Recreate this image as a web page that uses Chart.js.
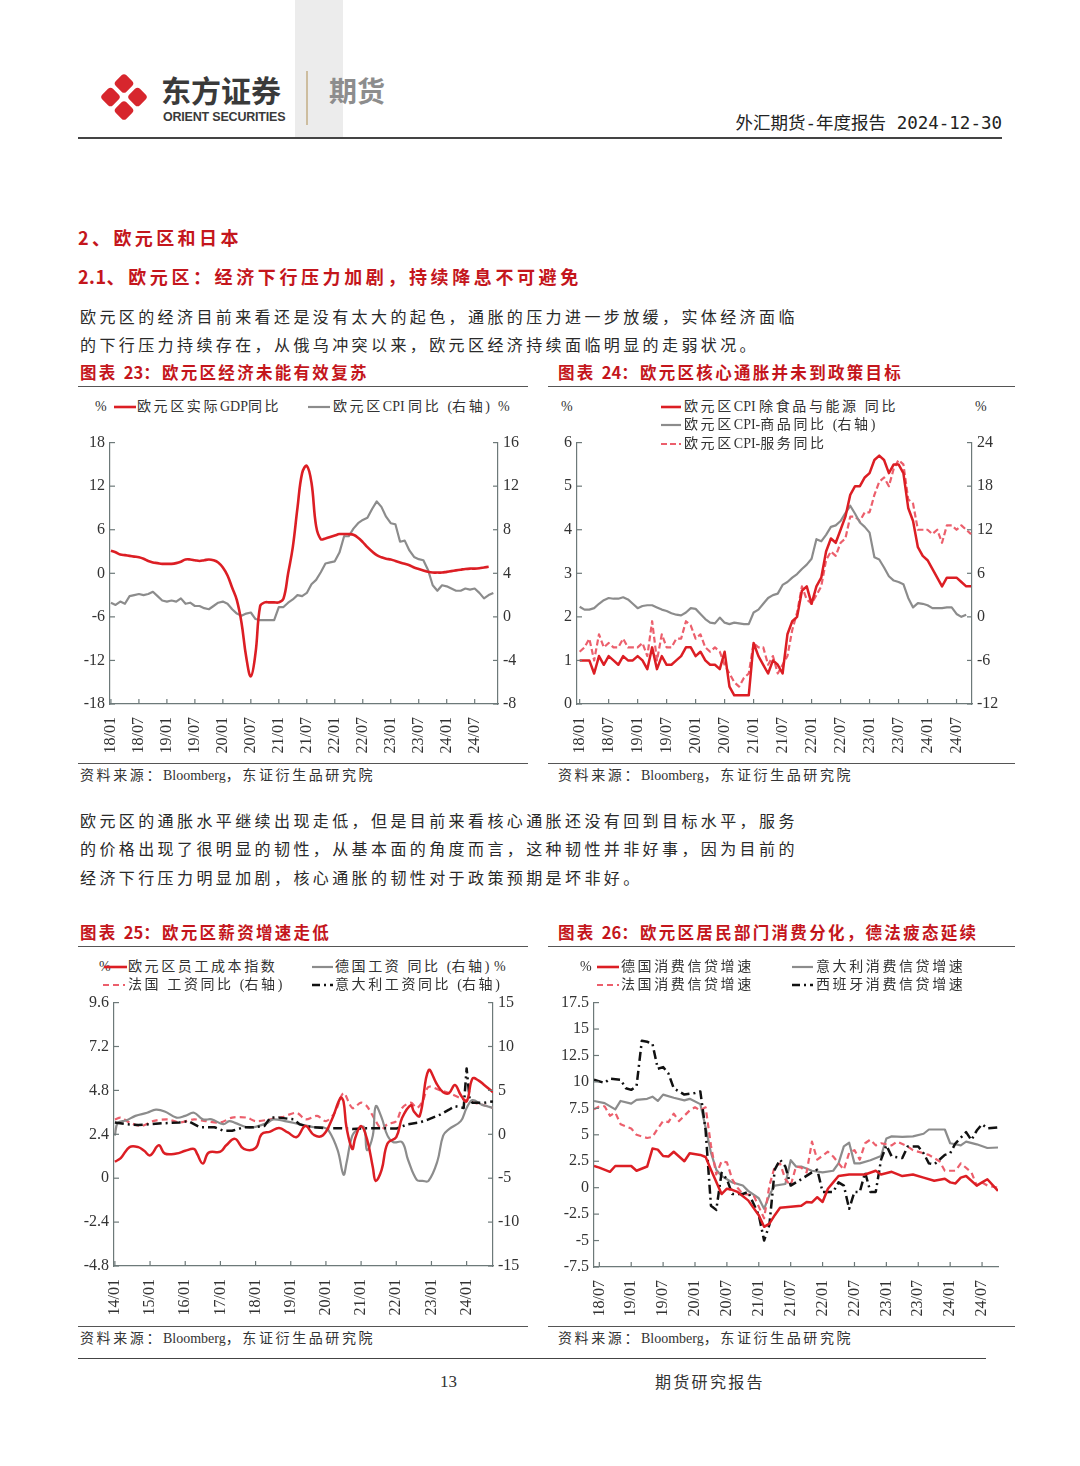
<!DOCTYPE html>
<html>
<head>
<meta charset="utf-8">
<script src="https://cdn.jsdelivr.net/npm/chart.js@4.4.1/dist/chart.umd.min.js"></script>
<style>
  body { margin: 0; background: #fff; }
  #page { position: relative; width: 1080px; height: 1466px; overflow: hidden;
          font-family: "Liberation Serif", "Noto Sans CJK SC", serif; color: #222; }
  .t { position: absolute; white-space: nowrap; line-height: 1; }
  .hr { position: absolute; height: 0; border-top: 1px solid #555; }
  .red { color: #c4161c; font-family: "Noto Sans CJK SC", sans-serif; font-weight: 700; }
  .body { font-family: "Noto Sans CJK SC", sans-serif; font-size: 16px; letter-spacing: 3.4px; color: #2a2a2a; }
  .lg { font-size: 14px; letter-spacing: 2.6px; color: #333; }
  .src { font-size: 14px; letter-spacing: 2.6px; color: #333; }
  .lat { letter-spacing: 0; font-family: "Liberation Serif", serif; }
  .cap { font-size: 16.5px; letter-spacing: 2.3px; }
  canvas { position: absolute; }
  .leg { position: absolute; z-index: 2; }
</style>
</head>
<body>
<div id="page">
  <!-- header -->
  <div style="position:absolute;left:295px;top:0;width:48px;height:138px;background:#ececec;"></div>
  <svg style="position:absolute;left:100px;top:73px;" width="48" height="48" viewBox="0 0 48 48">
    <g fill="#d7262d">
      <rect x="16.5" y="3" width="15" height="15" rx="3.5" transform="rotate(45 24 10.5)"/>
      <rect x="3" y="16.5" width="15" height="15" rx="3.5" transform="rotate(45 10.5 24)"/>
      <rect x="30" y="16.5" width="15" height="15" rx="3.5" transform="rotate(45 37.5 24)"/>
      <rect x="16.5" y="30" width="15" height="15" rx="3.5" transform="rotate(45 24 37.5)"/>
    </g>
  </svg>
  <div class="t" style="left:161px;top:74px;font-family:'Noto Sans CJK SC';font-weight:700;font-size:30px;color:#3a3a3a;">东方证券</div>
  <div class="t" style="left:163px;top:111px;font-family:'Liberation Sans';font-weight:700;font-size:12.5px;color:#3a3a3a;letter-spacing:-0.2px;">ORIENT SECURITIES</div>
  <div style="position:absolute;left:306px;top:71px;width:1.5px;height:54px;background:#cdbd9f;"></div>
  <div class="t" style="left:329px;top:76px;font-family:'Noto Sans CJK SC';font-weight:700;font-size:28px;color:#8d8d8d;">期货</div>
  <div class="t" style="right:78px;top:115px;font-family:'DejaVu Sans Mono','Noto Sans CJK SC';font-size:17.5px;color:#222;">外汇期货-年度报告 2024-12-30</div>
  <div class="hr" style="left:78px;top:137px;width:924px;border-top:2px solid #444;"></div>

  <!-- section text -->
  <div class="t red" style="left:78px;top:228px;font-size:18px;letter-spacing:3.4px;">2、欧元区和日本</div>
  <div class="t red" style="left:78px;top:267px;font-size:18px;letter-spacing:3.6px;"><span style="letter-spacing:0.5px;">2.1</span>、欧元区：经济下行压力加剧，持续降息不可避免</div>
  <div class="t body" style="left:80px;top:308px;">欧元区的经济目前来看还是没有太大的起色，通胀的压力进一步放缓，实体经济面临</div>
  <div class="t body" style="left:80px;top:336px;">的下行压力持续存在，从俄乌冲突以来，欧元区经济持续面临明显的走弱状况。</div>

  <div class="t red cap" style="left:80px;top:364px;">图表 <span class="lat" style="font-family:'Noto Sans CJK SC';">23</span>：欧元区经济未能有效复苏</div>
  <div class="t red cap" style="left:558px;top:364px;">图表 <span class="lat" style="font-family:'Noto Sans CJK SC';">24</span>：欧元区核心通胀并未到政策目标</div>
  <div class="hr" style="left:78px;top:386px;width:450px;"></div>
  <div class="hr" style="left:548px;top:386px;width:467px;"></div>

  <div class="hr" style="left:78px;top:763px;width:450px;"></div>
  <div class="hr" style="left:548px;top:763px;width:467px;"></div>
  <div class="t src" style="left:80px;top:769px;">资料来源：<span class="lat">Bloomberg</span>，东证衍生品研究院</div>
  <div class="t src" style="left:558px;top:769px;">资料来源：<span class="lat">Bloomberg</span>，东证衍生品研究院</div>

  <div class="t body" style="left:80px;top:812px;">欧元区的通胀水平继续出现走低，但是目前来看核心通胀还没有回到目标水平，服务</div>
  <div class="t body" style="left:80px;top:840px;">的价格出现了很明显的韧性，从基本面的角度而言，这种韧性并非好事，因为目前的</div>
  <div class="t body" style="left:80px;top:869px;">经济下行压力明显加剧，核心通胀的韧性对于政策预期是坏非好。</div>

  <div class="t red cap" style="left:80px;top:924px;">图表 <span class="lat" style="font-family:'Noto Sans CJK SC';">25</span>：欧元区薪资增速走低</div>
  <div class="t red cap" style="left:558px;top:924px;">图表 <span class="lat" style="font-family:'Noto Sans CJK SC';">26</span>：欧元区居民部门消费分化，德法疲态延续</div>
  <div class="hr" style="left:78px;top:946px;width:450px;"></div>
  <div class="hr" style="left:548px;top:946px;width:467px;"></div>

  <div class="hr" style="left:78px;top:1326px;width:450px;"></div>
  <div class="hr" style="left:548px;top:1326px;width:467px;"></div>
  <div class="t src" style="left:80px;top:1332px;">资料来源：<span class="lat">Bloomberg</span>，东证衍生品研究院</div>
  <div class="t src" style="left:558px;top:1332px;">资料来源：<span class="lat">Bloomberg</span>，东证衍生品研究院</div>

  <div class="hr" style="left:78px;top:1358px;width:908px;border-top:1.5px solid #444;"></div>
  <div class="t" style="left:440px;top:1373px;font-size:17px;color:#333;">13</div>
  <div class="t" style="left:655px;top:1373px;font-family:'Noto Sans CJK SC';font-size:16px;letter-spacing:2.3px;color:#333;">期货研究报告</div>

  <!-- canvases -->
  <canvas id="c23" width="470" height="335" style="left:66px;top:428px;"></canvas>
  <canvas id="c24" width="470" height="335" style="left:548px;top:428px;"></canvas>
  <canvas id="c25" width="470" height="338" style="left:66px;top:988px;"></canvas>
  <canvas id="c26" width="470" height="338" style="left:548px;top:988px;"></canvas>

  <!-- legends chart 23 -->
  <div class="leg t lg" style="left:95px;top:400px;">%</div>
  <svg class="leg" style="left:114px;top:404px;" width="22" height="6"><line x1="0" y1="3" x2="22" y2="3" stroke="#dc1e24" stroke-width="2.6"/></svg>
  <div class="leg t lg" style="left:137px;top:400px;">欧元区实际<span class="lat">GDP</span>同比</div>
  <svg class="leg" style="left:308px;top:404px;" width="22" height="6"><line x1="0" y1="3" x2="22" y2="3" stroke="#8c8c8c" stroke-width="2.2"/></svg>
  <div class="leg t lg" style="left:333px;top:400px;">欧元区<span class="lat">CPI </span>同比 <span class="lat">(</span>右轴<span class="lat">)</span></div>
  <div class="leg t lg" style="left:498px;top:400px;">%</div>

  <!-- legends chart 24 -->
  <div class="leg t lg" style="left:561px;top:400px;">%</div>
  <div class="leg t lg" style="left:975px;top:400px;">%</div>
  <svg class="leg" style="left:661px;top:404px;" width="20" height="6"><line x1="0" y1="3" x2="20" y2="3" stroke="#dc1e24" stroke-width="2.6"/></svg>
  <div class="leg t lg" style="left:684px;top:400px;">欧元区<span class="lat">CPI </span>除食品与能源 同比</div>
  <svg class="leg" style="left:661px;top:422px;" width="20" height="6"><line x1="0" y1="3" x2="20" y2="3" stroke="#8c8c8c" stroke-width="2.2"/></svg>
  <div class="leg t lg" style="left:684px;top:418px;">欧元区<span class="lat">CPI-</span>商品同比 <span class="lat">(</span>右轴<span class="lat">)</span></div>
  <svg class="leg" style="left:661px;top:441px;" width="20" height="6"><line x1="0" y1="3" x2="20" y2="3" stroke="#ec5f6c" stroke-width="2.2" stroke-dasharray="6 3"/></svg>
  <div class="leg t lg" style="left:684px;top:437px;">欧元区<span class="lat">CPI-</span>服务同比</div>

  <!-- legends chart 25 -->
  <div class="leg t lg" style="left:99px;top:960px;">%</div>
  <svg class="leg" style="left:104px;top:964px;" width="23" height="6"><line x1="0" y1="3" x2="23" y2="3" stroke="#dc1e24" stroke-width="2.6"/></svg>
  <div class="leg t lg" style="left:128px;top:960px;">欧元区员工成本指数</div>
  <svg class="leg" style="left:312px;top:964px;" width="21" height="6"><line x1="0" y1="3" x2="21" y2="3" stroke="#8c8c8c" stroke-width="2.2"/></svg>
  <div class="leg t lg" style="left:335px;top:960px;">德国工资 同比 <span class="lat">(</span>右轴<span class="lat">)</span></div>
  <div class="leg t lg" style="left:494px;top:960px;">%</div>
  <svg class="leg" style="left:103px;top:982px;" width="22" height="6"><line x1="0" y1="3" x2="22" y2="3" stroke="#ec5f6c" stroke-width="2.2" stroke-dasharray="6 4"/></svg>
  <div class="leg t lg" style="left:128px;top:978px;">法国 工资同比 <span class="lat">(</span>右轴<span class="lat">)</span></div>
  <svg class="leg" style="left:312px;top:982px;" width="21" height="6"><line x1="0" y1="3" x2="21" y2="3" stroke="#111" stroke-width="2.6" stroke-dasharray="8 4 2 4"/></svg>
  <div class="leg t lg" style="left:335px;top:978px;">意大利工资同比 <span class="lat">(</span>右轴<span class="lat">)</span></div>

  <!-- legends chart 26 -->
  <div class="leg t lg" style="left:580px;top:960px;">%</div>
  <svg class="leg" style="left:597px;top:964px;" width="22" height="6"><line x1="0" y1="3" x2="22" y2="3" stroke="#dc1e24" stroke-width="2.6"/></svg>
  <div class="leg t lg" style="left:621px;top:960px;">德国消费信贷增速</div>
  <svg class="leg" style="left:792px;top:964px;" width="21" height="6"><line x1="0" y1="3" x2="21" y2="3" stroke="#8c8c8c" stroke-width="2.2"/></svg>
  <div class="leg t lg" style="left:816px;top:960px;">意大利消费信贷增速</div>
  <svg class="leg" style="left:597px;top:982px;" width="22" height="6"><line x1="0" y1="3" x2="22" y2="3" stroke="#ec5f6c" stroke-width="2.2" stroke-dasharray="6 4"/></svg>
  <div class="leg t lg" style="left:621px;top:978px;">法国消费信贷增速</div>
  <svg class="leg" style="left:792px;top:982px;" width="21" height="6"><line x1="0" y1="3" x2="21" y2="3" stroke="#111" stroke-width="2.6" stroke-dasharray="8 4 2 4"/></svg>
  <div class="leg t lg" style="left:816px;top:978px;">西班牙消费信贷增速</div>
</div>

<script>
// ---------- chart 23: GDP vs CPI (month 0 = 2018/01) ----------
const c23Ticks = ['18/01','18/07','19/01','19/07','20/01','20/07','21/01','21/07','22/01','22/07','23/01','23/07','24/01','24/07'];
const c23LeftTicks = [-18, -12, -6, 0, 6, 12, 18];
const c23RightTicks = [-8, -4, 0, 4, 8, 12, 16];
const c23Gdp = [3.1,2.9,2.6,2.5,2.4,2.3,2.2,2.0,1.7,1.5,1.4,1.3,
  1.3,1.3,1.4,1.6,1.9,1.9,1.8,1.7,1.8,1.9,1.8,1.5,
  0.8,-0.3,-2.0,-3.7,-6.8,-11.5,-14.2,-11.0,-4.5,-4.0,-4.0,-4.0,
  -4.0,-3.5,0.0,3.6,9.0,13.8,14.8,12.5,6.5,4.7,4.8,5.0,
  5.2,5.4,5.4,5.4,5.3,4.9,4.3,3.6,3.0,2.5,2.2,2.0,
  1.9,1.7,1.5,1.3,1.1,0.8,0.6,0.4,0.2,0.1,0.1,0.1,
  0.2,0.3,0.4,0.5,0.6,0.65,0.65,0.7,0.8,0.9];
const c23Cpi = [1.3,1.1,1.4,1.2,1.9,2.0,2.1,2.0,2.1,2.3,1.9,1.5,
  1.4,1.5,1.4,1.7,1.2,1.3,1.0,1.0,0.8,0.7,1.0,1.3,
  1.4,1.2,0.7,0.3,0.1,0.3,0.4,-0.2,-0.3,-0.3,-0.3,-0.3,
  0.9,0.9,1.3,1.6,2.0,1.9,2.2,3.0,3.4,4.1,4.9,5.0,
  5.1,5.9,7.4,7.4,8.1,8.6,8.9,9.1,9.9,10.6,10.1,9.2,
  8.6,8.5,6.9,7.0,6.1,5.5,5.3,5.2,4.3,2.9,2.4,2.9,
  2.8,2.6,2.4,2.4,2.6,2.5,2.6,2.2,1.7,2.0,2.2];

// ---------- chart 24: core / goods / services (month 0 = 2018/01) ----------
const c24Ticks = c23Ticks;
const c24LeftTicks = [0, 1, 2, 3, 4, 5, 6];
const c24RightTicks = [-12, -6, 0, 6, 12, 18, 24];
const c24Core = [1.0,1.0,1.0,0.7,1.1,0.9,1.1,1.0,0.9,1.1,1.0,1.0,
  1.1,1.0,0.8,1.3,0.8,1.1,0.9,0.9,1.0,1.1,1.3,1.3,
  1.1,1.2,1.0,0.9,0.9,0.8,1.2,0.4,0.2,0.2,0.2,0.2,
  1.4,1.1,0.9,0.7,1.0,0.9,0.7,1.6,1.9,2.0,2.6,2.7,
  2.3,2.7,2.9,3.5,3.8,3.7,4.0,4.3,4.8,5.0,5.0,5.2,
  5.3,5.6,5.7,5.6,5.3,5.5,5.5,5.3,4.5,4.2,3.6,3.4,
  3.3,3.1,2.9,2.7,2.9,2.9,2.9,2.8,2.7,2.7];
const c24Goods = [1.4,1.0,1.0,1.2,1.8,2.3,2.6,2.5,2.5,2.7,2.4,1.8,
  1.2,1.5,1.6,1.6,1.3,1.0,0.8,0.5,0.3,0.2,0.6,1.2,
  1.1,0.4,-0.3,-0.8,-0.9,-0.1,-0.8,-1.0,-0.8,-0.9,-1.0,-1.0,
  0.6,1.0,1.8,2.6,3.0,3.2,4.4,4.8,5.4,5.9,6.6,7.2,
  8.0,10.7,10.4,11.3,12.4,12.6,13.2,14.3,15.3,14.2,13.0,12.4,
  11.6,8.2,7.9,6.8,5.6,5.0,4.8,4.5,2.6,1.3,1.9,1.8,
  1.6,1.2,1.2,1.2,1.3,1.3,0.4,0.0,0.3];
const c24Serv = [1.2,1.3,1.5,1.0,1.6,1.3,1.4,1.3,1.3,1.5,1.3,1.3,
  1.3,1.4,1.1,1.9,1.0,1.6,1.3,1.3,1.5,1.5,1.9,1.8,
  1.5,1.6,1.3,1.2,1.3,1.2,0.9,0.7,0.5,0.4,0.6,0.7,
  1.4,1.3,1.3,0.9,1.1,0.7,0.9,1.1,1.7,2.1,2.7,2.4,
  2.3,2.5,2.7,3.3,3.5,3.4,3.7,3.8,4.3,4.3,4.2,4.4,
  4.4,4.8,5.1,5.2,5.0,5.4,5.6,5.5,4.7,4.6,4.0,4.0,
  4.0,3.9,4.0,3.7,4.1,4.1,4.0,4.1,4.0,3.9];

// ---------- chart 25: wages (month 0 = 2014/01) ----------
const c25Ticks = ['14/01','15/01','16/01','17/01','18/01','19/01','20/01','21/01','22/01','23/01','24/01'];
const c25LeftTicks = ['-4.8','-2.4','0','2.4','4.8','7.2','9.6'];
const c25RightTicks = [-15, -10, -5, 0, 5, 10, 15];
const c25LcM = [0,2,5,8,10,12,15,17,21,24,27,28,30,32,36,38,41,44,48,50,53,56,59,62,65,68,71,74,77,78,79,81,82,84,86,88,89,91,93,96,98,101,102,104,107,110,112,114,116,118,120,122,124,126,129];
const c25Lc = [0.9,1.1,1.7,1.7,1.5,1.25,1.8,1.35,1.35,1.5,1.6,1.35,0.8,1.4,1.45,1.8,2.15,1.6,1.65,2.4,2.55,2.75,2.5,2.25,2.85,2.35,2.35,3.2,4.4,4.2,2.8,1.6,2.2,2.85,2.15,0.6,-0.15,0.45,1.9,2.25,3.3,4.0,3.65,3.4,5.9,5.1,4.7,4.65,5.1,4.55,4.2,5.45,5.35,5.1,4.7];
const c25DeM = [0,1,4,7,11,14,17,21,24,27,30,33,37,39,41,45,48,52,54,58,63,68,71,73,76,78,79,81,83,85,86,88,89,91,93,95,98,100,103,105,107,110,112,114,118,120,122,125,127,129];
const c25De = [-0.15,1.3,1.6,2.1,2.45,2.8,2.6,1.9,2.1,2.45,1.7,1.7,1.15,1.5,1.3,0.8,0.85,1.3,1.7,1.5,1.15,0.8,0.8,0.4,-1.8,-4.6,-3.3,-0.15,0.6,0.8,-1.8,-0.15,3.2,1.9,-0.15,-0.9,-0.9,-2.9,-5.2,-5.3,-5.3,-3.1,-0.15,0.6,1.5,3.0,3.9,3.4,3.2,3.0];
const c25FrM = [0,2,5,9,13,18,22,27,31,36,40,45,48,53,57,62,65,69,72,75,78,81,84,86,89,91,93,96,98,101,103,105,107,111,114,118,121,125,129];
const c25Fr = [1.7,1.9,1.35,0.95,1.5,1.7,1.35,1.7,1.5,1.35,1.9,1.9,1.5,1.7,1.95,2.45,1.7,2.1,1.5,2.45,4.7,3.0,3.6,3.2,1.5,0.6,1.15,1.5,3.0,3.6,3.0,3.75,5.4,5.0,4.7,4.1,3.75,3.4,3.0];
const c25ItM = [0,4,8,12,16,22,25,29,34,37,40,44,47,51,53,56,61,63,65,68,72,77,81,86,91,96,100,104,107,111,114,116,119,120,121,122,126,129];
const c25It = [1.35,1.15,1.05,1.15,1.25,1.35,1.5,0.8,0.8,0.4,0.4,0.8,0.8,0.95,1.9,1.9,1.7,1.15,0.95,0.8,0.7,0.7,0.6,0.7,0.7,0.65,1.15,1.35,1.7,2.25,2.8,3.2,3.0,7.5,4.1,3.6,3.6,3.75];

// ---------- chart 26: consumer credit (month 0 = 2018/01) ----------
const c26Ticks = ['18/07','19/01','19/07','20/01','20/07','21/01','21/07','22/01','22/07','23/01','23/07','24/01','24/07'];
const c26LeftTicks = ['-7.5','-5','-2.5','0','2.5','5','7.5','10','12.5','15','17.5'];
const c26DeM = [5,6,8,9,12,13,15,16,17,18,19,20,21,22,23,25,26,27,29,30,31,32,34,36,37,38,39,40,42,44,45,46,47,48,49,50,51,53,56,58,59,61,63,65,67,69,71,72,73,74,75,77,78,79,81];
const c26De = [2.05,1.9,1.5,2.05,2.05,1.6,2.0,3.7,3.6,3.0,2.95,3.4,2.95,2.5,3.25,3.1,2.9,1.7,-0.6,-0.1,-0.2,-0.4,-1.2,-2.6,-3.7,-3.4,-2.6,-1.9,-1.8,-1.7,-1.35,-1.4,-0.9,-1.35,-0.1,0.5,1.1,1.25,1.25,1.6,1.25,1.5,1.1,1.25,0.95,0.65,0.85,0.5,0.4,0.95,1.1,0.2,0.5,0.8,-0.3];
const c26ItM = [5,7,9,10,12,13,15,16,17,18,20,22,23,25,26,27,28,29,31,33,34,36,37,38,39,41,42,43,44,46,48,50,51,52,53,54,55,57,59,60,61,63,65,67,68,71,72,74,75,77,79,81];
const c26It = [8.2,8.0,7.4,8.2,7.95,8.3,8.4,8.6,8.2,8.8,8.5,8.25,8.4,7.9,5.7,3.3,1.7,1.1,0.5,0.2,-0.3,-1.0,-2.0,-0.7,0.2,0.35,2.6,2.0,2.0,1.6,1.45,1.6,2.3,3.9,4.25,2.3,2.3,2.6,3.0,4.65,4.85,4.8,4.85,5.1,5.5,5.5,4.2,4.0,4.35,4.1,3.75,3.8];
const c26FrM = [5,6,7,8,9,10,12,13,15,16,17,18,19,20,21,23,24,25,26,27,28,29,30,31,32,33,35,37,38,39,40,41,42,43,44,45,46,47,49,50,52,53,54,55,56,57,58,59,61,62,64,65,67,68,70,71,73,74,76,77,78,79,81];
const c26Fr = [7.4,7.7,7.7,6.8,7.1,6.0,5.6,5.0,4.7,4.8,5.6,6.3,6.2,7.0,6.3,7.3,7.6,7.3,7.6,4.0,1.25,2.5,2.4,0.8,0.0,-0.6,-0.7,-2.9,0.2,2.0,2.3,0.8,0.2,2.0,1.9,1.45,4.35,2.65,3.4,2.95,1.7,3.3,3.55,2.65,4.2,4.55,4.0,4.2,4.0,4.35,3.9,3.55,3.25,3.1,2.5,1.6,1.6,2.3,1.45,0.2,0.5,0.2,0.0];
const c26EsM = [5,7,8,10,11,12,13,14,15,16,17,18,19,20,21,22,24,25,26,27,28,29,30,31,33,34,36,37,38,39,40,41,42,43,44,46,47,48,50,51,52,53,54,55,56,57,58,59,60,61,63,64,66,67,68,69,71,72,73,75,76,77,78,79,81];
const c26Es = [10.2,9.9,10.3,10.2,9.4,9.25,9.6,13.9,13.8,13.6,11.25,11.4,10.8,9.4,9.1,8.8,8.95,9.1,5.4,-1.7,-2.1,1.4,0.8,-0.6,-0.6,-0.4,-2.6,-5.0,-3.5,1.7,2.65,2.0,0.2,0.5,0.8,1.45,1.7,-0.4,-0.4,0.5,0.2,-2.0,-0.4,-0.4,1.45,-0.4,-0.4,2.65,4.0,2.95,2.8,3.9,3.9,3.25,2.3,2.2,3.1,3.25,4.2,5.25,4.5,5.4,6.0,5.6,5.7];

// ---------- styling ----------
const AXIS = '#6d7979';
const RED = '#dc1e24', GRAY = '#8c8c8c', PINK = '#ec5f6c', BLACK = '#111111';
const tickFont = { family: "'Liberation Serif', serif", size: 16 };
const TICK_COLOR = '#333';

const mIdx = (lab, baseYear) => (parseInt(lab.slice(0, 2), 10) - baseYear) * 12 + parseInt(lab.slice(3), 10) - 1;
const seq = (vals, start) => vals.map((y, i) => ({ x: start + i, y }));
const pairs = (ms, vals) => ms.map((x, i) => ({ x, y: vals[i] }));

// tick marks pointing into the plot, as in the source charts
const inwardTicks = {
  id: 'inwardTicks',
  afterDatasetsDraw(chart) {
    const { ctx, chartArea: a } = chart;
    ctx.save();
    ctx.strokeStyle = AXIS;
    ctx.lineWidth = 1.2;
    Object.values(chart.scales).forEach(s => {
      s.ticks.forEach((t, i) => {
        const p = s.getPixelForTick(i);
        ctx.beginPath();
        if (s.axis === 'x') { ctx.moveTo(p, a.bottom); ctx.lineTo(p, a.bottom - 5); }
        else if (s.position === 'left') { ctx.moveTo(a.left, p); ctx.lineTo(a.left + 5, p); }
        else { ctx.moveTo(a.right, p); ctx.lineTo(a.right - 5, p); }
        ctx.stroke();
      });
    });
    ctx.restore();
  }
};

function yScale(pos, ticks, width) {
  const nums = ticks.map(Number);
  return {
    position: pos,
    min: Math.min(...nums), max: Math.max(...nums),
    afterBuildTicks: s => { s.ticks = nums.map(v => ({ value: v })); },
    afterFit: s => { s.width = width; },
    ticks: { callback: (v, i) => String(ticks[i]), font: tickFont, color: TICK_COLOR, padding: 5 },
    grid: { display: false, drawTicks: false },
    border: { color: AXIS, width: 1.2 }
  };
}

function makeChart(id, o) {
  const scales = {
    x: {
      type: 'linear', min: o.xMin, max: o.xMax,
      afterBuildTicks: s => { s.ticks = o.ticks.map(l => ({ value: mIdx(l, o.base) })); },
      afterFit: s => { s.height = o.xH; },
      ticks: { callback: (v, i) => o.ticks[i], minRotation: 90, maxRotation: 90, autoSkip: false,
               padding: 13, font: tickFont, color: TICK_COLOR },
      grid: { display: false, drawTicks: false },
      border: { color: AXIS, width: 1.2 }
    },
    yL: yScale('left', o.left, o.leftW)
  };
  if (o.right) scales.yR = yScale('right', o.right, o.rightW);
  new Chart(document.getElementById(id), {
    type: 'line',
    data: { datasets: o.datasets },
    options: {
      responsive: false,
      animation: false,
      layout: { padding: { top: o.padTop, right: o.padRight || 0, left: 0, bottom: 0 } },
      plugins: { legend: { display: false }, tooltip: { enabled: false } },
      elements: { point: { radius: 0 }, line: { borderJoinStyle: 'round', borderCapStyle: 'butt' } },
      scales
    },
    plugins: [inwardTicks]
  });
}

const line = (data, axis, color, width, extra) =>
  Object.assign({ data, yAxisID: axis, borderColor: color, borderWidth: width, fill: false, tension: 0 }, extra || {});

makeChart('c23', {
  base: 18, ticks: c23Ticks, xMin: -0.2, xMax: 83, xH: 59, padTop: 7,
  left: c23LeftTicks, leftW: 44, right: c23RightTicks, rightW: 38,
  datasets: [
    line(seq(c23Gdp, 0), 'yL', RED, 2.6, { tension: 0.4 }),
    line(seq(c23Cpi, 0), 'yR', GRAY, 2.2)
  ]
});

makeChart('c24', {
  base: 18, ticks: c24Ticks, xMin: -0.55, xMax: 81.2, xH: 59, padTop: 7,
  left: c24LeftTicks, leftW: 29, right: c24RightTicks, rightW: 46,
  datasets: [
    line(seq(c24Core, 0), 'yL', RED, 2.5),
    line(seq(c24Goods, 0), 'yR', GRAY, 2.2),
    line(seq(c24Serv, 0), 'yL', PINK, 2.2, { borderDash: [6, 3] })
  ]
});

makeChart('c25', {
  base: 14, ticks: c25Ticks, xMin: -0.3, xMax: 129, xH: 60, padTop: 8,
  left: c25LeftTicks, leftW: 48, right: c25RightTicks, rightW: 43,
  datasets: [
    line(pairs(c25LcM, c25Lc), 'yL', RED, 2.5, { tension: 0.4 }),
    line(pairs(c25ItM, c25It), 'yR', BLACK, 2.5, { borderDash: [9, 4, 2, 4] }),
    line(pairs(c25DeM, c25De), 'yR', GRAY, 2.2, { tension: 0.4 }),
    line(pairs(c25FrM, c25Fr), 'yR', PINK, 2.2, { borderDash: [6, 4], tension: 0.3 })
  ]
});

makeChart('c26', {
  base: 18, ticks: c26Ticks, xMin: 5, xMax: 81, xH: 59, padTop: 8, padRight: 20,
  left: c26LeftTicks, leftW: 46,
  datasets: [
    line(pairs(c26DeM, c26De), 'yL', RED, 2.5),
    line(pairs(c26EsM, c26Es), 'yL', BLACK, 2.5, { borderDash: [9, 4, 2, 4] }),
    line(pairs(c26FrM, c26Fr), 'yL', PINK, 2.2, { borderDash: [6, 4] }),
    line(pairs(c26ItM, c26It), 'yL', GRAY, 2.2)
  ]
});
</script>
</body>
</html>
